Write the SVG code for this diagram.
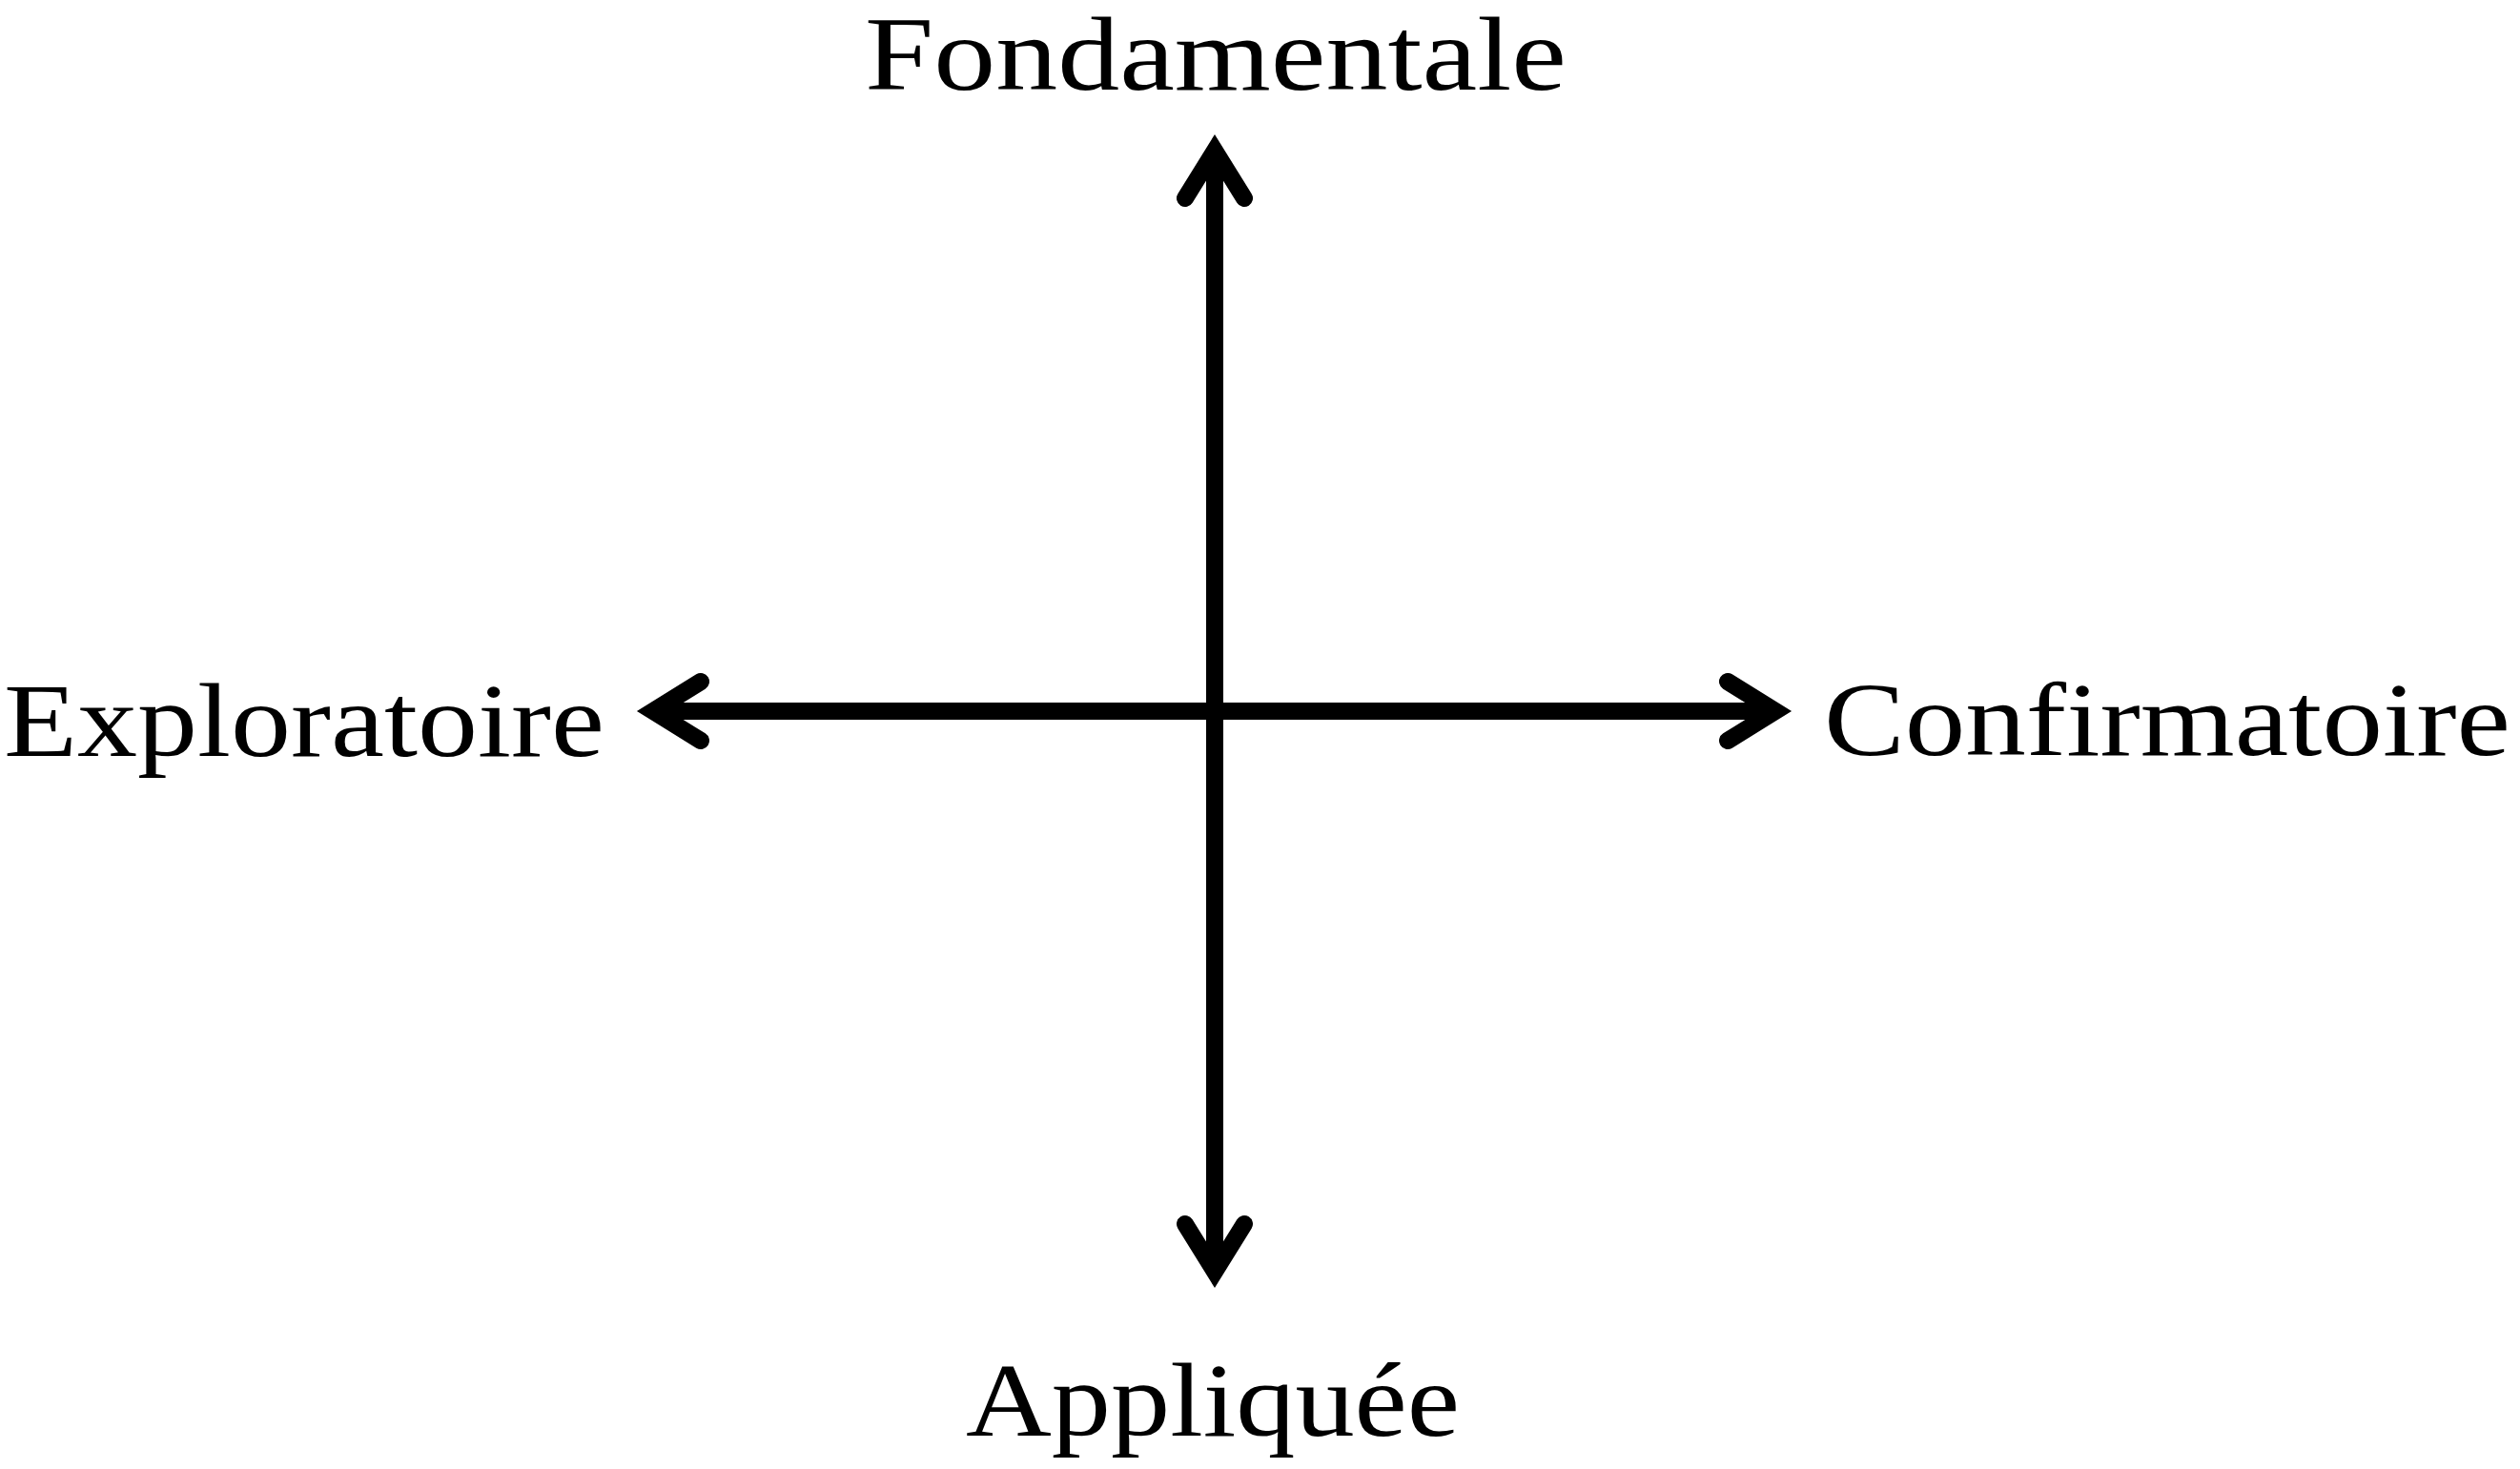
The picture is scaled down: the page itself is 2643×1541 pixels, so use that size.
<svg xmlns="http://www.w3.org/2000/svg" width="2643" height="1541" viewBox="0 0 2643 1541">
<style>
.lbl{font-family:"Liberation Serif","Times New Roman",serif;font-size:110px;fill:#000}
.ax{stroke:#000;stroke-width:18;fill:none}
.hd{stroke:#000;stroke-width:18;fill:none;stroke-linecap:round;stroke-linejoin:miter;stroke-miterlimit:10}
</style>
<rect width="2643" height="1541" fill="#fff"/>
<g id="connectors">
<line class="ax" x1="1274" y1="160" x2="1274" y2="1332"/>
<line class="ax" x1="687" y1="746" x2="1860" y2="746"/>
<polyline class="hd" points="1243,208 1274,158 1305,208"/>
<polyline class="hd" points="1243,1284 1274,1334 1305,1284"/>
<polyline class="hd" points="735,715 685,746 735,777"/>
<polyline class="hd" points="1812,715 1862,746 1812,777"/>
</g>
<g id="fondamentale"><text class="lbl" x="907" y="94" textLength="736" lengthAdjust="spacingAndGlyphs">Fondamentale</text></g>
<g id="exploratoire"><text class="lbl" x="4" y="793" textLength="630" lengthAdjust="spacingAndGlyphs">Exploratoire</text></g>
<g id="confirmatoire"><text class="lbl" x="1913" y="792" textLength="720" lengthAdjust="spacingAndGlyphs">Confirmatoire</text></g>
<g id="appliquee"><text class="lbl" x="1013" y="1506" textLength="518" lengthAdjust="spacingAndGlyphs">Appliquée</text></g>
</svg>
